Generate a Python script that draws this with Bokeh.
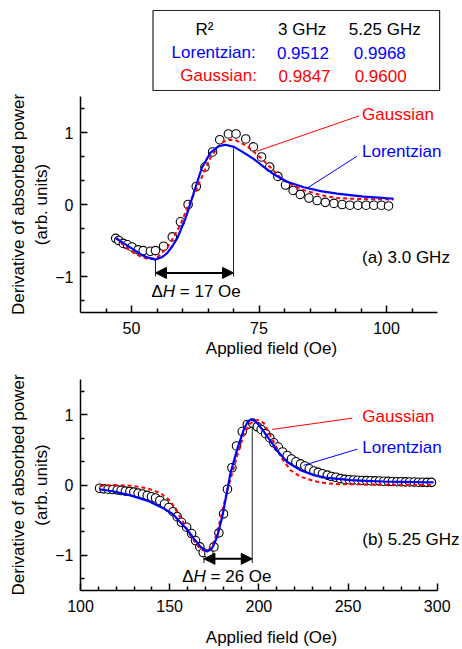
from bokeh.plotting import figure
from bokeh.models import Range1d, FixedTicker, Label, Arrow, NormalHead
from bokeh.layouts import column
from bokeh.embed import file_html
from bokeh.resources import INLINE
from bokeh.core.properties import value

FONT = "Liberation Sans"
BLUE = "#0000FF"
RED = "#FF0000"

# ---------------- R^2 table ----------------
table_header = ["R\u00b2", "3 GHz", "5.25 GHz"]
fit_names = ["Lorentzian:", "Gaussian:"]
r2_3ghz = ["0.9512", "0.9847"]
r2_525ghz = ["0.9968", "0.9600"]

# ---------------- panel (a) 3.0 GHz ----------------
a_field = [46.9, 47.5, 48.4, 49.2, 50.1, 51.3, 52.3, 53.7, 54.7, 56.3, 58.0, 59.6,
           61.1, 62.7, 64.4, 65.9, 67.3, 69.0, 70.5, 72.4, 73.9, 75.5, 77.1, 78.7,
           80.2, 81.7, 83.1, 84.8, 86.4, 88.0, 89.7, 91.3, 92.8, 94.4, 96.0, 97.5,
           99.0, 100.4]
a_signal = [-0.47, -0.50, -0.54, -0.56, -0.59, -0.63, -0.64, -0.65, -0.64, -0.58, -0.45, -0.24,
            0.00, 0.25, 0.52, 0.73, 0.90, 0.98, 0.98, 0.91, 0.80, 0.66, 0.52, 0.39,
            0.27, 0.195, 0.14, 0.09, 0.055, 0.03, 0.015, 0.0, -0.01, -0.01, -0.01, -0.01,
            -0.01, -0.02]
a_lor_field = [46.9, 48.5, 50.5, 52.0, 53.1, 54.7, 56.0, 57.0, 58.0, 59.0, 60.6, 61.4,
               62.2, 63.8, 65.5, 67.1, 68.4, 70.1, 72.0, 74.0, 76.0, 77.9, 80.5, 83.8,
               87.1, 90.3, 92.9, 95.5, 98.5, 101.4]
a_lor = [-0.465, -0.54, -0.63, -0.70, -0.735, -0.765, -0.73, -0.675, -0.58, -0.465, -0.19, -0.02,
         0.16, 0.51, 0.72, 0.81, 0.83, 0.80, 0.72, 0.63, 0.52, 0.42, 0.315, 0.24,
         0.185, 0.15, 0.13, 0.11, 0.095, 0.08]
a_gau_field = [46.9, 48.5, 50.5, 52.0, 53.4, 55.0, 57.0, 58.3, 59.6, 61.2, 62.9, 64.2,
               65.5, 66.8, 68.0, 69.2, 70.5, 72.7, 75.3, 77.3, 79.2, 81.2, 83.8, 87.1,
               90.3, 93.0, 96.0, 101.4]
a_gau = [-0.455, -0.57, -0.675, -0.73, -0.76, -0.74, -0.60, -0.45, -0.28, 0.0, 0.23, 0.45,
         0.65, 0.79, 0.87, 0.90, 0.89, 0.81, 0.65, 0.51, 0.37, 0.28, 0.20, 0.13,
         0.09, 0.08, 0.075, 0.07]
a_dh_left, a_dh_right = 54.7, 70.0
a_dh_text = "= 17 Oe"

# ---------------- panel (b) 5.25 GHz ----------------
b_field = [110.7, 113.1, 115.5, 118.1, 120.6, 122.8, 125.2, 127.7, 129.9, 132.3, 134.8, 137.4,
           139.8, 142.1, 144.5, 147.1, 149.5, 151.9, 154.2, 156.6, 159.5, 162.3, 164.5, 166.9,
           168.8, 172.0, 174.8, 177.6, 180.2, 182.4, 184.9, 187.5, 190.7, 193.5, 196.5, 199.1,
           201.3, 203.8, 206.2, 208.4, 210.9, 213.3, 215.9, 218.3, 220.8, 223.4, 225.8, 228.3,
           230.9, 233.3, 235.7, 238.4, 240.8, 243.2, 245.8, 248.2, 250.7, 253.1, 255.5, 258.0,
           260.4, 262.8, 265.2, 267.7, 270.1, 272.5, 274.9, 277.4, 279.8, 282.2, 284.6, 287.1,
           289.5, 291.9, 294.3, 296.8]
b_signal = [-0.046, -0.055, -0.060, -0.064, -0.069, -0.078, -0.087, -0.092, -0.101, -0.115, -0.129, -0.148,
            -0.166, -0.185, -0.22, -0.27, -0.32, -0.38, -0.45, -0.53, -0.60, -0.69, -0.79, -0.88,
            -0.96, -0.98, -0.88, -0.68, -0.41, -0.06, 0.245, 0.555, 0.76, 0.86, 0.88, 0.83,
            0.79, 0.73, 0.67, 0.60, 0.54, 0.47, 0.42, 0.37, 0.33, 0.30, 0.27, 0.23,
            0.20, 0.18, 0.16, 0.14, 0.12, 0.11, 0.09, 0.08, 0.075, 0.072, 0.068, 0.065,
            0.062, 0.060, 0.058, 0.056, 0.054, 0.052, 0.050, 0.047, 0.046, 0.045, 0.043, 0.042,
            0.040, 0.039, 0.038, 0.037]
b_lor_field = [110.7, 118.7, 128.0, 137.4, 146.7, 152.0, 156.1, 160.0, 163.6, 167.3, 170.1, 171.2,
               173.8, 176.6, 179.4, 182.2, 184.1, 187.9, 191.6, 193.5, 195.3, 197.0, 199.1, 202.8,
               206.6, 210.3, 215.9, 223.4, 230.9, 238.4, 245.8, 251.4, 260.0, 270.0, 280.0, 290.0,
               298.0]
b_lor = [-0.06, -0.092, -0.148, -0.222, -0.333, -0.42, -0.532, -0.64, -0.763, -0.88, -0.935, -0.944,
         -0.90, -0.74, -0.463, -0.093, 0.17, 0.51, 0.79, 0.89, 0.93, 0.92, 0.88, 0.76,
         0.625, 0.486, 0.325, 0.21, 0.14, 0.10, 0.083, 0.07, 0.06, 0.05, 0.045, 0.04,
         0.038]
b_gau_field = [110.7, 118.7, 128.0, 137.4, 144.9, 150.5, 156.1, 161.7, 165.4, 168.2, 169.8, 171.5,
               173.8, 176.6, 179.4, 182.2, 184.1, 187.9, 191.6, 195.3, 199.1, 202.8, 205.6, 209.4,
               213.1, 217.8, 223.4, 230.9, 238.4, 245.8, 251.4, 270.0, 298.0]
b_gau = [-0.014, 0.0, -0.009, -0.046, -0.116, -0.231, -0.463, -0.718, -0.856, -0.926, -0.935, -0.925,
         -0.88, -0.67, -0.39, -0.08, 0.08, 0.42, 0.72, 0.88, 0.926, 0.88, 0.74, 0.56,
         0.37, 0.21, 0.117, 0.056, 0.023, 0.01, 0.01, 0.005, 0.0]
b_dh_left, b_dh_right = 169.2, 196.3
b_dh_text = "= 26 Oe"


def style_axes(p, xbounds, xticks, xminor, ax_standoff):
    for ax in (p.xaxis[0], p.yaxis[0]):
        ax.axis_line_width = 1.5
        ax.axis_line_color = "black"
        ax.major_tick_in = 7
        ax.major_tick_out = 0
        ax.minor_tick_in = 4
        ax.minor_tick_out = 0
        ax.major_tick_line_width = 1.5
        ax.minor_tick_line_width = 1.5
        ax.major_label_text_font = FONT
        ax.major_label_text_font_size = "16px"
        ax.major_label_text_color = "black"
        ax.axis_label_text_font = FONT
        ax.axis_label_text_font_size = "17px"
        ax.axis_label_text_font_style = "normal"
        ax.axis_label_text_color = "black"
    p.xaxis[0].major_label_standoff = 9
    p.yaxis[0].major_label_standoff = 7
    p.xaxis[0].bounds = xbounds
    p.xaxis[0].ticker = FixedTicker(ticks=xticks, minor_ticks=xminor)
    p.yaxis[0].ticker = FixedTicker(ticks=[-1, 0, 1],
                                    minor_ticks=[-4/3, -2/3, -1/3, 1/3, 2/3, 4/3])
    p.xaxis[0].axis_label = "Applied field (Oe)"
    p.xaxis[0].axis_label_standoff = ax_standoff
    p.yaxis[0].axis_label = "Derivative of absorbed power\n(arb. units)"
    p.yaxis[0].axis_label_standoff = 1
    p.grid.visible = False
    p.outline_line_color = None


def add_text(p, x, y, text, color="black", style="normal", align="left", xoff=0):
    p.add_layout(Label(x=x, y=y, text=text, text_color=color, text_font=FONT,
                       text_font_size="17px", text_font_style=style,
                       text_align=align, text_baseline="middle", x_offset=xoff))


def panel(xr, xbounds, height, top, bottom, xticks, xminor, ax_standoff,
          field, sig, lf, lv, gf, gv, dh_l, dh_r, dh_y_top_l, dh_y_top_r, dh_y_bot, arrow_y,
          dh_text, dh_tx, dh_ty, gau_lbl, gau_line, lor_lbl, lor_line, tag, tag_pos):
    p = figure(width=462, height=height, x_range=Range1d(*xr), y_range=Range1d(-1.5, 1.5),
               toolbar_location=None, output_backend="svg",
               min_border_left=80, min_border_right=0,
               min_border_top=top, min_border_bottom=bottom)
    style_axes(p, xbounds, xticks, xminor, ax_standoff)
    # guide lines for the linewidth
    p.segment(x0=[dh_l, dh_r], y0=[dh_y_top_l, dh_y_top_r], x1=[dh_l, dh_r],
              y1=[dh_y_bot, dh_y_bot], line_color="#222222", line_width=1)
    p.scatter(field, sig, marker="circle", size=8.5, fill_color="white",
              line_color="black", line_width=1.1)
    p.line(gf, gv, line_color=RED, line_width=2, line_dash="4 3")
    p.line(lf, lv, line_color=BLUE, line_width=2.2)
    p.add_layout(Arrow(x_start=dh_l, y_start=arrow_y, x_end=dh_r, y_end=arrow_y, line_width=2,
                       start=NormalHead(size=11, fill_color="black", line_color="black"),
                       end=NormalHead(size=11, fill_color="black", line_color="black")))
    add_text(p, dh_tx, dh_ty, "\u0394")
    add_text(p, dh_tx, dh_ty, "H", style="italic", xoff=11.4)
    add_text(p, dh_tx, dh_ty, dh_text, xoff=28.4)
    # callouts
    p.segment(x0=[gau_line[0]], y0=[gau_line[1]], x1=[gau_line[2]], y1=[gau_line[3]],
              line_color=RED, line_width=1)
    p.segment(x0=[lor_line[0]], y0=[lor_line[1]], x1=[lor_line[2]], y1=[lor_line[3]],
              line_color=BLUE, line_width=1)
    add_text(p, gau_lbl[0], gau_lbl[1], "Gaussian", color=RED)
    add_text(p, lor_lbl[0], lor_lbl[1], "Lorentzian", color=BLUE)
    add_text(p, tag_pos[0], tag_pos[1], tag)
    return p


# table figure
tbl = figure(width=462, height=91, x_range=Range1d(0, 462), y_range=Range1d(91, 0),
             toolbar_location=None, output_backend="svg", x_axis_type=None, y_axis_type=None,
             min_border_left=0, min_border_right=0, min_border_top=0, min_border_bottom=0)
tbl.grid.visible = False
tbl.outline_line_color = None
tbl.quad(left=[87.7], right=[434.3], top=[10], bottom=[90], fill_color=None,
         line_color="#222222", line_width=1.2)
col_x = [150, 268, 368]
tbl.text(x=col_x, y=[29, 29, 29], text=table_header, text_font=value(FONT),
         text_font_size="17px", text_align="center", text_baseline="middle", text_color="black")
row_colors = [BLUE, RED]
row_y = [52, 75]
name_x = [161, 167]
v1_x = [269, 271]
v2_x = [362, 363]
for i in range(2):
    tbl.text(x=[name_x[i], v1_x[i], v2_x[i]], y=[row_y[i]] * 3,
             text=[fit_names[i], r2_3ghz[i], r2_525ghz[i]], text_font=value(FONT),
             text_font_size="17px", text_align="center", text_baseline="middle",
             text_color=row_colors[i])

pa = panel((40, 114.9), (40, 110), 271, 5, 50, [50, 75, 100],
           [45, 55, 60, 65, 70, 80, 85, 90, 95, 105], 2,
           a_field, a_signal, a_lor_field, a_lor, a_gau_field, a_gau,
           a_dh_left, a_dh_right, -0.77, 0.78, -1.0, -0.95,
           a_dh_text, 53.9, -1.21,
           (95.2, 1.255), (94.6, 1.23, 74.6, 0.74),
           (95.2, 0.743), (94.2, 0.67, 84.5, 0.23),
           "(a) 3.0 GHz", (95.2, -0.735))

pb = panel((100, 314.2), (100, 300), 287, 17, 55, [100, 150, 200, 250, 300],
           [110, 120, 130, 140, 160, 170, 180, 190, 210, 220, 230, 240, 260, 270, 280, 290], 13,
           b_field, b_signal, b_lor_field, b_lor, b_gau_field, b_gau,
           b_dh_left, b_dh_right, -0.95, 0.88, -1.11, -1.05,
           b_dh_text, 157.0, -1.30,
           (258.0, 0.972), (252.4, 0.95, 207.5, 0.79),
           (258.0, 0.533), (255.2, 0.51, 225.2, 0.28),
           "(b) 5.25 GHz", (258.0, -0.778))

layout = column(tbl, pa, pb)
open("out.html", "w").write(file_html(layout, INLINE))
